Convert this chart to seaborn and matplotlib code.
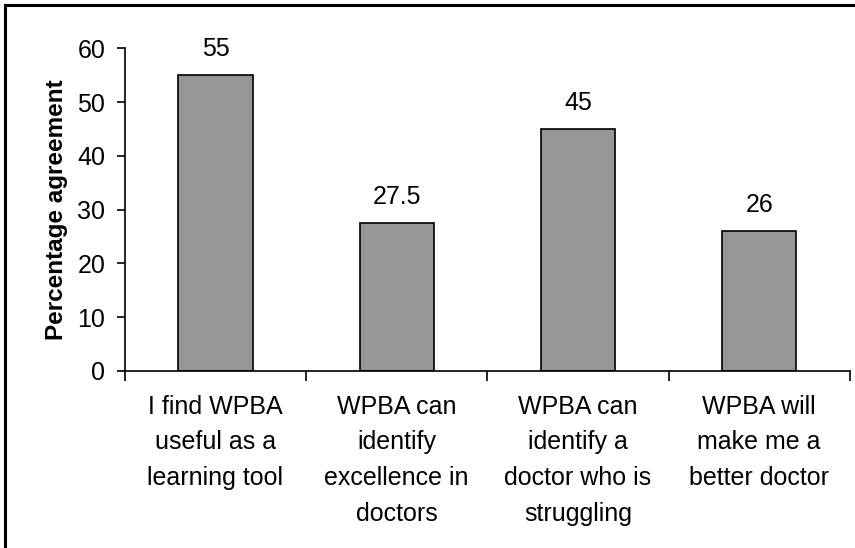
import matplotlib
matplotlib.use("Agg")
import matplotlib.pyplot as plt
import seaborn as sns
import pandas as pd
from matplotlib.patches import Rectangle

categories = [
    "I find WPBA\nuseful as a\nlearning tool",
    "WPBA can\nidentify\nexcellence in\ndoctors",
    "WPBA can\nidentify a\ndoctor who is\nstruggling",
    "WPBA will\nmake me a\nbetter doctor",
]
agreement = [55, 27.5, 45, 26]
value_labels = ["55", "27.5", "45", "26"]
y_ticks = [0, 10, 20, 30, 40, 50, 60]

df = pd.DataFrame({"statement": categories, "pct": agreement})

sns.set_theme(style="white")
plt.rcParams["font.family"] = ["Liberation Sans", "DejaVu Sans"]

fig = plt.figure(figsize=(8.55, 5.48), dpi=100)
ax = fig.add_axes([0.146, 0.323, 0.848, 0.589])

sns.barplot(data=df, x="statement", y="pct", color="#969696", width=0.41,
            edgecolor="black", linewidth=1.2, saturation=1, ax=ax)

for i, (v, lab) in enumerate(zip(agreement, value_labels)):
    ax.annotate(lab, (i, v), xytext=(0, 10), textcoords="offset points",
                ha="center", va="bottom", fontsize=18, color="black")

ax.set_xlim(-0.5, len(categories) - 0.5)
ax.set_ylim(0, 60)
ax.set_yticks(y_ticks)
ax.set_ylabel("Percentage agreement", fontsize=17.5, fontweight="bold",
              labelpad=7, color="black")
ax.set_xlabel("")

for s in ["top", "right"]:
    ax.spines[s].set_visible(False)
for s in ["left", "bottom"]:
    ax.spines[s].set_color("black")
    ax.spines[s].set_linewidth(1.2)

ax.tick_params(axis="y", direction="out", length=6, width=1.2, colors="black",
               labelsize=18, left=True, pad=8)
ax.tick_params(axis="x", which="major", length=0, labelsize=18, pad=17,
               labelcolor="black")
ax.set_xticks([i - 0.5 for i in range(len(categories) + 1)], minor=True)
ax.tick_params(axis="x", which="minor", direction="out", length=7, width=1.2,
               colors="black", bottom=True)
for t in ax.get_xticklabels():
    t.set_linespacing(1.62)

# outer chart border (only top and left edges visible in the crop)
fig.patches.append(Rectangle((0.006, -0.1), 1.1, 1.09, transform=fig.transFigure,
                             fill=False, edgecolor="black", linewidth=2.2))

plt.savefig("out.png", dpi=100)
